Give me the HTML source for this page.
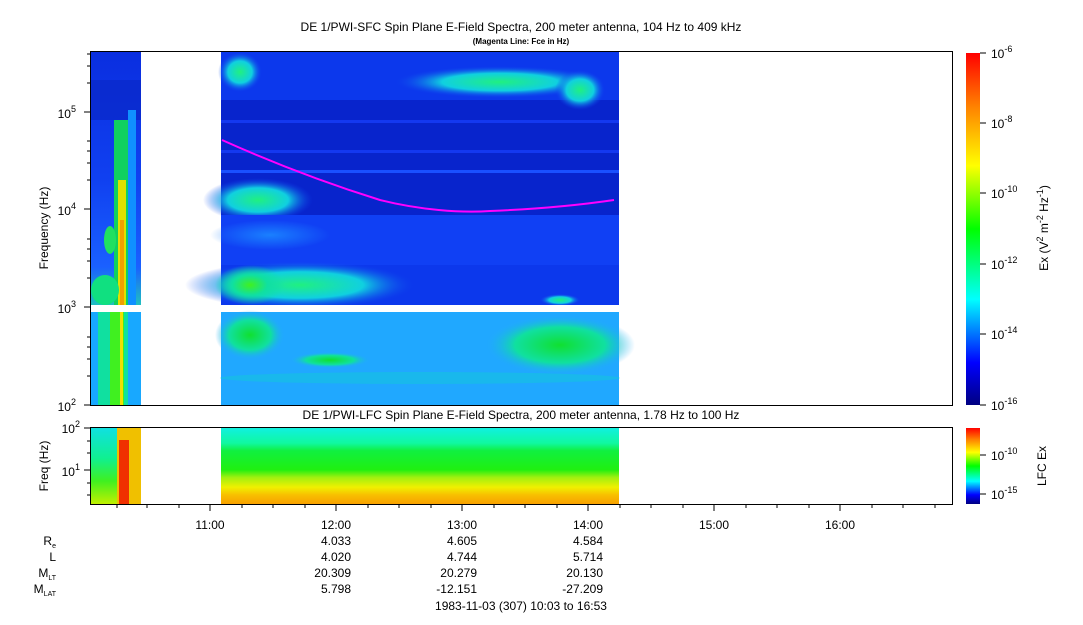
<!DOCTYPE html>
<html><head><meta charset="utf-8"><style>
body{margin:0;background:#fff;width:1083px;height:620px;overflow:hidden}
svg text{font-family:"Liberation Sans",Arial,sans-serif;fill:#000}
</style></head><body>
<svg width="1083" height="620" viewBox="0 0 1083 620" xmlns="http://www.w3.org/2000/svg">
<defs>
<linearGradient id="cb" x1="0" y1="1" x2="0" y2="0">
<stop offset="0" stop-color="#000080"/><stop offset="0.12" stop-color="#0000ff"/>
<stop offset="0.3" stop-color="#00ffff"/><stop offset="0.5" stop-color="#00ff00"/>
<stop offset="0.68" stop-color="#ffff00"/><stop offset="0.85" stop-color="#ff8000"/>
<stop offset="1" stop-color="#ff0000"/></linearGradient>
<linearGradient id="leftU" x1="0" y1="0" x2="0" y2="1">
<stop offset="0" stop-color="#0a2ee0"/><stop offset="0.5" stop-color="#1040f0"/>
<stop offset="0.85" stop-color="#1a60ff"/><stop offset="1" stop-color="#20c0c0"/></linearGradient>
<linearGradient id="lfcR" x1="0" y1="0" x2="0" y2="1">
<stop offset="0" stop-color="#10f0e0"/><stop offset="0.2" stop-color="#10f8a0"/>
<stop offset="0.3" stop-color="#10f040"/><stop offset="0.55" stop-color="#20f010"/>
<stop offset="0.65" stop-color="#a0f010"/><stop offset="0.78" stop-color="#f0f000"/>
<stop offset="0.88" stop-color="#f8c000"/><stop offset="1" stop-color="#f8a000"/></linearGradient>
<linearGradient id="lfcL" x1="0" y1="0" x2="0" y2="1">
<stop offset="0" stop-color="#10e0e0"/><stop offset="0.4" stop-color="#10f090"/>
<stop offset="0.7" stop-color="#40f020"/><stop offset="1" stop-color="#c0f000"/></linearGradient>
<radialGradient id="g1"><stop offset="0" stop-color="#20f080"/><stop offset="0.55" stop-color="#10d0e0"/><stop offset="1" stop-color="#1040f0" stop-opacity="0"/></radialGradient>
<radialGradient id="g2"><stop offset="0" stop-color="#10e030"/><stop offset="0.6" stop-color="#10e0a0"/><stop offset="1" stop-color="#20a8ff" stop-opacity="0"/></radialGradient>
<radialGradient id="g3"><stop offset="0" stop-color="#40f020"/><stop offset="0.5" stop-color="#10e0a0"/><stop offset="1" stop-color="#10e0a0" stop-opacity="0"/></radialGradient>
<radialGradient id="g4"><stop offset="0" stop-color="#1a80ff"/><stop offset="1" stop-color="#1a80ff" stop-opacity="0"/></radialGradient>
</defs>

<text x="521" y="31" font-size="12" text-anchor="middle">DE 1/PWI-SFC  Spin Plane E-Field Spectra, 200 meter antenna, 104 Hz to 409 kHz</text>
<text x="521" y="44" font-size="8" text-anchor="middle" font-weight="bold">(Magenta Line: Fce in Hz)</text>

<!-- left block upper -->
<rect x="90" y="51" width="51" height="254" fill="url(#leftU)"/>
<rect x="90" y="80" width="51" height="40" fill="#0a28c8" opacity="0.7"/>
<rect x="114" y="120" width="14" height="185" fill="#10d060"/>
<rect x="118" y="180" width="8" height="125" fill="#e0e000"/>
<rect x="120" y="220" width="4" height="85" fill="#f0a000"/>
<rect x="128" y="110" width="8" height="195" fill="#1090ff"/>
<ellipse cx="110" cy="240" rx="6" ry="14" fill="#20e060"/>
<ellipse cx="105" cy="290" rx="14" ry="15" fill="#10e080"/>
<rect x="90" y="305" width="51" height="7" fill="#fff"/>
<!-- left lower -->
<rect x="90" y="312" width="51" height="93" fill="#18a8ff"/>
<rect x="98" y="312" width="30" height="93" fill="#10e0a0"/>
<rect x="110" y="312" width="14" height="93" fill="#40f020"/>
<rect x="120" y="312" width="3" height="93" fill="#f0e000"/>

<!-- right block upper -->
<rect x="221" y="51" width="398" height="254" fill="#0c38ec"/>
<rect x="221" y="100" width="398" height="115" fill="#0824cc"/>
<rect x="221" y="120" width="398" height="3" fill="#1438f0"/>
<rect x="221" y="150" width="398" height="3" fill="#1438f0"/>
<rect x="221" y="170" width="398" height="3" fill="#1a50ff"/>
<ellipse cx="240" cy="72" rx="22" ry="20" fill="url(#g1)"/>
<ellipse cx="500" cy="82" rx="105" ry="16" fill="url(#g1)"/>
<ellipse cx="580" cy="90" rx="25" ry="20" fill="url(#g1)"/>
<ellipse cx="258" cy="200" rx="55" ry="22" fill="url(#g1)"/>
<rect x="221" y="215" width="398" height="50" fill="#1040f4"/>
<ellipse cx="270" cy="235" rx="60" ry="15" fill="url(#g4)"/>
<ellipse cx="300" cy="285" rx="115" ry="24" fill="url(#g1)"/>
<ellipse cx="250" cy="285" rx="35" ry="20" fill="url(#g3)"/>
<ellipse cx="560" cy="300" rx="20" ry="6" fill="url(#g1)"/>
<rect x="221" y="305" width="398" height="7" fill="#fff"/>
<!-- right lower -->
<rect x="221" y="312" width="398" height="93" fill="#20a8ff"/>
<ellipse cx="250" cy="335" rx="35" ry="25" fill="url(#g2)"/>
<ellipse cx="560" cy="345" rx="75" ry="30" fill="url(#g2)"/>
<ellipse cx="330" cy="360" rx="40" ry="8" fill="url(#g2)"/>
<ellipse cx="420" cy="378" rx="200" ry="6" fill="#10d0d0" opacity="0.4"/>
<!-- magenta Fce -->
<path d="M222,140 Q300,175 380,200 C420,210 460,213 490,211 C540,209 580,205 614,200" fill="none" stroke="#ff00ff" stroke-width="2"/>

<rect x="90.5" y="51.5" width="862" height="354" fill="none" stroke="#000"/>
<!-- y ticks -->
<g stroke="#000">
<line x1="84" y1="112" x2="90" y2="112"/><line x1="84" y1="209" x2="90" y2="209"/>
<line x1="84" y1="307" x2="90" y2="307"/><line x1="84" y1="405" x2="90" y2="405"/>
<line x1="87" y1="83" x2="90" y2="83"/><line x1="87" y1="66" x2="90" y2="66"/><line x1="87" y1="54" x2="90" y2="54"/>
<line x1="87" y1="180" x2="90" y2="180"/><line x1="87" y1="163" x2="90" y2="163"/><line x1="87" y1="151" x2="90" y2="151"/><line x1="87" y1="141" x2="90" y2="141"/>
<line x1="87" y1="278" x2="90" y2="278"/><line x1="87" y1="261" x2="90" y2="261"/><line x1="87" y1="249" x2="90" y2="249"/><line x1="87" y1="239" x2="90" y2="239"/>
<line x1="87" y1="376" x2="90" y2="376"/><line x1="87" y1="359" x2="90" y2="359"/><line x1="87" y1="347" x2="90" y2="347"/><line x1="87" y1="337" x2="90" y2="337"/>
</g>
<text x="76" y="118" font-size="12" text-anchor="end">10<tspan dy="-6" font-size="9">5</tspan></text>
<text x="76" y="215" font-size="12" text-anchor="end">10<tspan dy="-6" font-size="9">4</tspan></text>
<text x="76" y="313" font-size="12" text-anchor="end">10<tspan dy="-6" font-size="9">3</tspan></text>
<text x="76" y="411" font-size="12" text-anchor="end">10<tspan dy="-6" font-size="9">2</tspan></text>
<text transform="translate(48,228) rotate(-90)" font-size="12" text-anchor="middle">Frequency (Hz)</text>

<!-- colorbar upper -->
<rect x="966" y="53" width="14" height="352" fill="url(#cb)"/>
<g stroke="#000"><line x1="980" y1="53" x2="986" y2="53"/><line x1="980" y1="123" x2="986" y2="123"/><line x1="980" y1="193" x2="986" y2="193"/><line x1="980" y1="264" x2="986" y2="264"/><line x1="980" y1="334" x2="986" y2="334"/><line x1="980" y1="405" x2="986" y2="405"/></g>
<g font-size="12">
<text x="991" y="58">10<tspan dy="-6" font-size="9">-6</tspan></text>
<text x="991" y="128">10<tspan dy="-6" font-size="9">-8</tspan></text>
<text x="991" y="198">10<tspan dy="-6" font-size="9">-10</tspan></text>
<text x="991" y="269">10<tspan dy="-6" font-size="9">-12</tspan></text>
<text x="991" y="339">10<tspan dy="-6" font-size="9">-14</tspan></text>
<text x="991" y="410">10<tspan dy="-6" font-size="9">-16</tspan></text>
</g>
<text transform="translate(1048,228) rotate(-90)" font-size="12" text-anchor="middle">Ex (V<tspan dy="-5" font-size="9">2</tspan><tspan dy="5"> m</tspan><tspan dy="-5" font-size="9">-2</tspan><tspan dy="5"> Hz</tspan><tspan dy="-5" font-size="9">-1</tspan><tspan dy="5">)</tspan></text>

<!-- LFC panel -->
<text x="521" y="419" font-size="12" text-anchor="middle">DE 1/PWI-LFC  Spin Plane E-Field Spectra, 200 meter antenna, 1.78 Hz to 100 Hz</text>
<rect x="90" y="428" width="51" height="76" fill="url(#lfcL)"/>
<rect x="117" y="428" width="24" height="76" fill="#f0c000"/>
<rect x="119" y="440" width="10" height="64" fill="#f03000"/>
<rect x="221" y="428" width="398" height="76" fill="url(#lfcR)"/>
<rect x="90.5" y="427.5" width="862" height="77" fill="none" stroke="#000"/>
<g stroke="#000"><line x1="84" y1="428" x2="90" y2="428"/><line x1="84" y1="470" x2="90" y2="470"/>
<line x1="87" y1="441" x2="90" y2="441"/><line x1="87" y1="453" x2="90" y2="453"/><line x1="87" y1="483" x2="90" y2="483"/><line x1="87" y1="495" x2="90" y2="495"/></g>
<text x="80" y="433" font-size="12" text-anchor="end">10<tspan dy="-6" font-size="9">2</tspan></text>
<text x="80" y="476" font-size="12" text-anchor="end">10<tspan dy="-6" font-size="9">1</tspan></text>
<text transform="translate(48,466) rotate(-90)" font-size="12" text-anchor="middle">Freq (Hz)</text>
<rect x="966" y="428" width="14" height="76" fill="url(#cb)"/>
<g stroke="#000"><line x1="980" y1="455" x2="986" y2="455"/><line x1="980" y1="494" x2="986" y2="494"/></g>
<text x="991" y="460" font-size="12">10<tspan dy="-6" font-size="9">-10</tspan></text>
<text x="991" y="499" font-size="12">10<tspan dy="-6" font-size="9">-15</tspan></text>
<text transform="translate(1046,466) rotate(-90)" font-size="12" text-anchor="middle">LFC Ex</text>

<!-- x ticks -->
<g stroke="#000">
<line x1="117" y1="504" x2="117" y2="508"/><line x1="147" y1="504" x2="147" y2="508"/><line x1="179" y1="504" x2="179" y2="508"/>
<line x1="210" y1="504" x2="210" y2="511"/><line x1="242" y1="504" x2="242" y2="508"/><line x1="273" y1="504" x2="273" y2="508"/><line x1="305" y1="504" x2="305" y2="508"/>
<line x1="336" y1="504" x2="336" y2="511"/><line x1="368" y1="504" x2="368" y2="508"/><line x1="399" y1="504" x2="399" y2="508"/><line x1="431" y1="504" x2="431" y2="508"/>
<line x1="462" y1="504" x2="462" y2="511"/><line x1="494" y1="504" x2="494" y2="508"/><line x1="525" y1="504" x2="525" y2="508"/><line x1="557" y1="504" x2="557" y2="508"/>
<line x1="588" y1="504" x2="588" y2="511"/><line x1="620" y1="504" x2="620" y2="508"/><line x1="651" y1="504" x2="651" y2="508"/><line x1="683" y1="504" x2="683" y2="508"/>
<line x1="714" y1="504" x2="714" y2="511"/><line x1="746" y1="504" x2="746" y2="508"/><line x1="777" y1="504" x2="777" y2="508"/><line x1="809" y1="504" x2="809" y2="508"/>
<line x1="840" y1="504" x2="840" y2="511"/><line x1="872" y1="504" x2="872" y2="508"/><line x1="903" y1="504" x2="903" y2="508"/><line x1="935" y1="504" x2="935" y2="508"/>
</g>
<g font-size="12" text-anchor="middle">
<text x="210" y="529">11:00</text><text x="336" y="529">12:00</text><text x="462" y="529">13:00</text>
<text x="588" y="529">14:00</text><text x="714" y="529">15:00</text><text x="840" y="529">16:00</text>
</g>
<g font-size="12" text-anchor="end">
<text x="56" y="545">R<tspan dy="3" font-size="7">e</tspan></text>
<text x="56" y="561">L</text>
<text x="56" y="577">M<tspan dy="3" font-size="7">LT</tspan></text>
<text x="56" y="593">M<tspan dy="3" font-size="7">LAT</tspan></text>
<text x="351" y="545">4.033</text><text x="477" y="545">4.605</text><text x="603" y="545">4.584</text>
<text x="351" y="561">4.020</text><text x="477" y="561">4.744</text><text x="603" y="561">5.714</text>
<text x="351" y="577">20.309</text><text x="477" y="577">20.279</text><text x="603" y="577">20.130</text>
<text x="351" y="593">5.798</text><text x="477" y="593">-12.151</text><text x="603" y="593">-27.209</text>
</g>
<text x="521" y="610" font-size="12" text-anchor="middle">1983-11-03 (307) 10:03 to 16:53</text>
</svg>
</body></html>
